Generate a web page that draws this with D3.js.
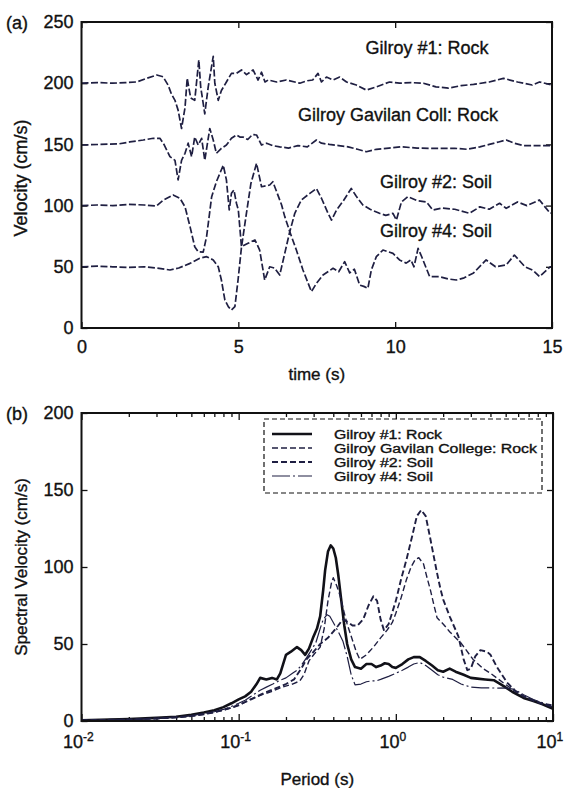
<!DOCTYPE html>
<html>
<head>
<meta charset="utf-8">
<script src="https://cdn.jsdelivr.net/npm/d3@7"></script>
<style>
  body { margin: 0; background: #fff; }
  svg { display: block; }
  text { font-family: "Liberation Sans", Arial, Helvetica, sans-serif; fill: #111; stroke: #111; stroke-width: 0.35px; }
</style>
</head>
<body>
<svg id="chart" width="568" height="788"></svg>
<script>
// ---------- (a) velocity time histories, offset per station ----------
const timeG1 = [0,0.5,1.0,1.4,1.76,2.08,2.4,2.6,2.76,2.87,2.98,3.08,3.19,3.3,3.37,3.48,3.61,3.74,3.8,3.93,4.04,4.2,4.25,4.36,4.46,4.62,4.78,4.94,5.1,5.26,5.47,5.63,5.74,5.85,5.95,6.22,6.53,6.96,7.2,7.37,7.54,7.65,7.81,8.02,8.23,8.45,8.76,9.08,9.4,9.82,10.14,10.5,10.9,11.3,11.7,12.1,12.5,13.0,13.45,13.9,14.37,14.6,15];
const velG1  = [200,200.5,200,200.5,201,204,206.7,205.3,198.5,191,186,178,163,180,204,188,186,219,197,175,197,222,200,186,194,201,208,208,210.8,207,210.8,202.6,209,201,202.6,201,202.6,200,202,202.6,208,201,205,202.6,205,201,198.5,194.4,197,201,200,200.5,200,197,196,198,199,201,204,201,198.5,201,198.5];

const timeGav = [0,0.6,1.2,1.54,1.97,2.29,2.5,2.64,2.82,2.98,3.08,3.19,3.3,3.4,3.51,3.61,3.72,3.83,3.93,4.09,4.2,4.3,4.46,4.62,4.78,4.94,5.05,5.15,5.3,5.45,5.58,5.74,5.9,6.1,6.32,6.6,6.9,7.2,7.49,7.65,7.9,8.2,8.5,8.8,9.08,9.4,9.8,10.2,10.7,11.1,11.5,11.9,12.3,12.7,13.0,13.3,13.54,13.8,14.1,14.5,15];
const velGav  = [149.5,150,150.5,152,153.6,155,155,149.5,140,137,121,137,142.7,151,140,156,149.5,155,137,163,153.6,142.7,146.8,149.5,155,157.7,156,156,154,158,157.7,149.5,151,149,148,147,149,148,153.6,151,150,149,148,146,144,146,147,148,147,146.8,146.8,146.8,146,148,150,152,153.6,151,149,149,149];

const timeG2 = [0,0.5,1.0,1.5,2.0,2.39,2.61,2.92,3.14,3.3,3.46,3.61,3.72,3.88,3.99,4.15,4.3,4.52,4.62,4.71,4.78,4.86,4.94,5.0,5.1,5.31,5.53,5.68,5.84,6.0,6.15,6.32,6.48,6.64,6.8,7.01,7.28,7.49,7.65,7.86,7.97,8.13,8.35,8.6,8.75,8.97,9.2,9.5,9.7,9.93,10.04,10.2,10.4,10.7,11.0,11.2,11.5,11.9,12.37,12.7,13.0,13.33,13.54,13.9,14.2,14.6,14.94,15];
const velG2  = [100,100.5,100,101,100.5,99.7,104.6,108.7,106,99,82.8,66.4,62.3,62,75,107.3,119.5,133,121,96.4,110,112.7,101.9,96.4,66.4,69.2,71.9,63.7,39.2,50,49,43.3,61,78.7,93.7,104.6,110,114,106,93.7,88.2,96.4,104,114,108,100.5,97,93.7,92,93.7,88.2,103,107.3,104,103,96.4,98,97,93.7,99,97,101.9,97.8,103,100,104.6,93.7,94];

const timeG4 = [0,0.5,1.0,1.5,2.0,2.4,2.82,3.1,3.46,3.77,3.99,4.2,4.36,4.46,4.57,4.68,4.78,4.89,4.99,5.1,5.26,5.4,5.58,5.74,6.0,6.1,6.22,6.38,6.48,6.64,6.85,7.06,7.33,7.49,7.7,8.02,8.2,8.39,8.55,8.7,8.87,9.0,9.13,9.24,9.4,9.61,9.93,10.14,10.35,10.5,10.6,10.73,10.85,11.1,11.4,11.7,11.95,12.2,12.5,12.9,13.2,13.54,13.8,14.14,14.4,14.6,14.94,15];
const velG4  = [50,50.5,50,49.5,50,49,47.4,49,52.8,57,58.3,55.6,50,39.2,22.9,17.4,14.7,17.4,39,66,94,118,134.6,115.4,116.8,119.5,111.4,100.5,91,78.7,63.7,47.4,29.7,36.5,43.3,48.8,46,54.2,45,48,35,34,32.4,47.4,58.3,63.7,61,55.6,53,55.6,50,65,58,41.9,42,40,39.2,41,45,55.6,50,51.5,59.6,50,47,42,50,50];

const timeTicks = [0, 5, 10, 15];
const velTicks  = [0, 50, 100, 150, 200, 250];
const traceLabels = ["Gilroy #1: Rock", "Gilroy Gavilan Coll: Rock", "Gilroy #2: Soil", "Gilroy #4: Soil"];

// ---------- (b) spectral velocity vs period ----------
const perG1 = [0.01,0.02,0.03,0.04,0.05,0.06,0.07,0.08,0.09,0.1,0.11,0.12,0.13,0.137,0.15,0.163,0.175,0.184,0.2,0.215,0.235,0.25,0.265,0.28,0.297,0.315,0.33,0.345,0.355,0.37,0.385,0.4,0.415,0.43,0.45,0.47,0.49,0.52,0.55,0.6,0.65,0.7,0.75,0.8,0.85,0.9,0.95,1.0,1.1,1.2,1.3,1.42,1.55,1.7,1.85,2.0,2.2,2.4,2.7,3.0,3.3,3.7,4.2,4.8,5.5,6.5,7.5,8.5,10];
const svG1  = [0.5,1.2,2,2.8,4,5.5,7,9,11.5,14,16,19,24,28,27,28,27,31,43,45,48,46,43,47,54,60,68,85,98,110,114,112,106,95,78,62,50,40,35,34,37,37,35,36,37.5,37,35,34.5,37,40,41.5,41.5,39,36,33,32,34,32,30,28,27.5,27,26.5,23,19,15,13,11,8];

const perGav = [0.01,0.02,0.03,0.04,0.05,0.06,0.07,0.08,0.09,0.1,0.118,0.14,0.16,0.19,0.22,0.245,0.26,0.28,0.3,0.33,0.35,0.37,0.39,0.4,0.42,0.44,0.47,0.49,0.52,0.56,0.59,0.65,0.72,0.8,0.88,0.95,1.0,1.08,1.17,1.25,1.33,1.4,1.5,1.58,1.66,1.75,1.83,2.0,2.2,2.6,3.1,3.6,4.0,4.8,5.7,6.5,7.5,8.5,10];
const svGav  = [0.3,0.8,1.5,2.2,3,4.2,5.5,7,8.5,10,14,17,19,22,24,26,30,39,43,48,60,78,90,93,88,82,70,63,55,45,40,43,48,54,59,64,70,80,92,100,105,106,102,93,85,75,67,63,58,50.6,40,34,31,25,19.5,16,13,11,9];

const perG2 = [0.01,0.02,0.03,0.04,0.05,0.06,0.07,0.08,0.09,0.1,0.12,0.14,0.17,0.2,0.225,0.25,0.27,0.3,0.33,0.37,0.4,0.43,0.46,0.5,0.53,0.57,0.62,0.67,0.72,0.76,0.8,0.84,0.9,1.0,1.08,1.17,1.27,1.36,1.45,1.55,1.66,1.75,1.83,1.92,2.0,2.2,2.5,2.7,2.85,3.0,3.2,3.45,3.8,4.0,4.4,5.1,5.7,6.5,7.5,8.5,10];
const svG2  = [0.5,1,1.7,2.4,3.3,4.5,5.8,7.2,8.7,10.5,14,17.5,21,24,27,34,40,45,50,54,58,62,66,64,62,62,66,75,81,78,66,59,63,78,92,105,120,133,137,133,118,106,96,86,79,68,55,40,33,34,42,46,45,43,35,25,20,16,13.5,11.5,10];

const perG4 = [0.01,0.02,0.03,0.04,0.05,0.06,0.07,0.08,0.09,0.1,0.11,0.12,0.137,0.15,0.165,0.184,0.2,0.22,0.235,0.25,0.27,0.29,0.31,0.33,0.345,0.365,0.38,0.4,0.43,0.46,0.49,0.52,0.55,0.6,0.65,0.7,0.75,0.8,0.9,1.0,1.1,1.2,1.3,1.42,1.55,1.7,1.85,2.0,2.3,2.6,3.0,3.5,4.4,5.0,5.7,6.5,7.5,8.5,10];
const svG4  = [0.3,1,1.8,2.6,3.5,4.8,6,7.5,9.5,11.5,13.5,16,20,22,24,26.5,28,31,33,36,41,46,51,60,66,69,68,64,58,52,42,30,23.5,24,25.5,26,26,27,29,31,33,35,37,38,36,33,30,28.5,27,24,22,21.5,21.4,21.5,20.5,17,14,12,9];

const periodMajor = [0.01, 0.1, 1, 10];
const svTicks = [0, 50, 100, 150, 200];
const legendNames = ["Gilroy #1: Rock", "Gilroy Gavilan College: Rock", "Gilroy #2: Soil", "Gilroy #4: Soil"];

// ---------- drawing ----------
const svg = d3.select("#chart");
const ink = "#111";
const traceInk = "#1f1f42";

function frame(g, x0, y0, x1, y1) {
  g.append("rect").attr("x", x0).attr("y", y0).attr("width", x1 - x0).attr("height", y1 - y0)
    .attr("fill", "none").attr("stroke", ink).attr("stroke-width", 2);
}
function tidyAxis(sel) {
  sel.select(".domain").remove();
  sel.selectAll(".tick line").attr("stroke", ink).attr("stroke-width", 1.3);
  sel.selectAll(".tick text").attr("fill", ink).style("font-size", "18px")
     .style("font-family", "\"Liberation Sans\", Arial, sans-serif");
}

// ----- panel (a) -----
const A = { left: 81.5, right: 552, top: 22, bottom: 328 };
const xa = d3.scaleLinear().domain([0, 15]).range([A.left, A.right]);
const ya = d3.scaleLinear().domain([0, 250]).range([A.bottom, A.top]);
const ga = svg.append("g");

ga.append("g").attr("transform", `translate(0,${A.bottom})`)
  .call(d3.axisBottom(xa).tickValues(timeTicks).tickSize(-6).tickPadding(12)).call(tidyAxis);
ga.append("g").attr("transform", `translate(0,${A.top})`)
  .call(d3.axisTop(xa).tickValues(timeTicks).tickSize(-6).tickFormat("")).call(tidyAxis);
ga.append("g").attr("transform", `translate(${A.left},0)`)
  .call(d3.axisLeft(ya).tickValues(velTicks).tickSize(-6).tickPadding(8)).call(tidyAxis);
ga.append("g").attr("transform", `translate(${A.right},0)`)
  .call(d3.axisRight(ya).tickValues(velTicks).tickSize(-6).tickFormat("")).call(tidyAxis);

const lineA = d3.line().x(d => xa(d[0])).y(d => ya(d[1]));
const traces = [[timeG1, velG1], [timeGav, velGav], [timeG2, velG2], [timeG4, velG4]];
traces.forEach(([t, v]) => {
  ga.append("path").datum(t.map((ti, i) => [ti, v[i]]))
    .attr("d", lineA).attr("fill", "none").attr("stroke", traceInk)
    .attr("stroke-width", 1.7).attr("stroke-dasharray", "7,2.5").attr("stroke-linejoin", "round");
});
frame(ga, A.left, A.top, A.right, A.bottom);

const labelPos = [[427, 54], [398, 121], [436, 188], [436, 237]];
traceLabels.forEach((s, i) => {
  ga.append("text").attr("x", labelPos[i][0]).attr("y", labelPos[i][1])
    .attr("text-anchor", "middle").style("font-size", "18px").text(s);
});
ga.append("text").attr("x", 6).attr("y", 29).style("font-size", "18px").text("(a)");
ga.append("text").attr("x", (A.left + A.right) / 2).attr("y", 380).attr("text-anchor", "middle")
  .style("font-size", "17px").text("time (s)");
ga.append("text").attr("transform", `translate(27,${(A.top + A.bottom) / 2 + 3}) rotate(-90)`)
  .attr("text-anchor", "middle").style("font-size", "18px").text("Velocity (cm/s)");

// ----- panel (b) -----
const B = { left: 81.5, right: 553, top: 413, bottom: 721 };
const xb = d3.scaleLog().domain([0.01, 10]).range([B.left, B.right]);
const yb = d3.scaleLinear().domain([0, 200]).range([B.bottom, B.top]);
const gb = svg.append("g");

const minorTicks = [];
[0.01, 0.1, 1].forEach(d => { for (let k = 2; k <= 9; k++) minorTicks.push(d * k); });

const xbAxis = gb.append("g").attr("transform", `translate(0,${B.bottom})`)
  .call(d3.axisBottom(xb).tickValues(periodMajor).tickSize(-7).tickPadding(14).tickFormat(() => "10"))
  .call(tidyAxis);
// exponent superscripts
xbAxis.selectAll(".tick text").each(function(d) {
  const e = Math.round(Math.log10(d));
  const t = d3.select(this);
  t.attr("text-anchor", "middle").attr("dx", "-0.2em");
  t.append("tspan").attr("dy", "-0.55em").style("font-size", "12px").text(String(e));
});
gb.append("g").attr("transform", `translate(0,${B.bottom})`)
  .call(d3.axisBottom(xb).tickValues(minorTicks).tickSize(-4).tickFormat("")).call(tidyAxis);
gb.append("g").attr("transform", `translate(0,${B.top})`)
  .call(d3.axisTop(xb).tickValues(periodMajor).tickSize(-7).tickFormat("")).call(tidyAxis);
gb.append("g").attr("transform", `translate(0,${B.top})`)
  .call(d3.axisTop(xb).tickValues(minorTicks).tickSize(-4).tickFormat("")).call(tidyAxis);
gb.append("g").attr("transform", `translate(${B.left},0)`)
  .call(d3.axisLeft(yb).tickValues(svTicks).tickSize(-6).tickPadding(8)).call(tidyAxis);
gb.append("g").attr("transform", `translate(${B.right},0)`)
  .call(d3.axisRight(yb).tickValues(svTicks).tickSize(-6).tickFormat("")).call(tidyAxis);

const lineB = d3.line().x(d => xb(d[0])).y(d => yb(d[1])).curve(d3.curveLinear);
const spectra = [
  { p: perG1,  v: svG1,  w: 2.6, dash: null,        c: "#111118" },
  { p: perGav, v: svGav, w: 1.4, dash: "6,3",       c: traceInk },
  { p: perG2,  v: svG2,  w: 1.9, dash: "6,3",       c: traceInk },
  { p: perG4,  v: svG4,  w: 1.2, dash: "18,3,2,3",  c: traceInk }
];
spectra.forEach(s => {
  gb.append("path").datum(s.p.map((p, i) => [p, s.v[i]]))
    .attr("d", lineB).attr("fill", "none").attr("stroke", s.c).attr("stroke-width", s.w)
    .attr("stroke-dasharray", s.dash).attr("stroke-linejoin", "round");
});
frame(gb, B.left, B.top, B.right, B.bottom);

// legend: tight rows, text stretched horizontally to the box width
const L = { x0: 264, y0: 419, x1: 542, y1: 493 };
gb.append("rect").attr("x", L.x0).attr("y", L.y0).attr("width", L.x1 - L.x0).attr("height", L.y1 - L.y0)
  .attr("fill", "#fff").attr("stroke", ink).attr("stroke-width", 1.2).attr("stroke-dasharray", "5,3");
const rowY = [434, 448, 462, 476];
const rowLen = [108, 203, 99, 99];
legendNames.forEach((name, i) => {
  const s = spectra[i];
  gb.append("line").attr("x1", 272).attr("x2", 312).attr("y1", rowY[i]).attr("y2", rowY[i])
    .attr("stroke", s.c).attr("stroke-width", s.w).attr("stroke-dasharray", s.dash);
  gb.append("text").attr("x", 334).attr("y", rowY[i] + 4.5).style("font-size", "12.5px")
    .attr("textLength", rowLen[i]).attr("lengthAdjust", "spacingAndGlyphs").text(name);
});

gb.append("text").attr("x", 6).attr("y", 420).style("font-size", "18px").text("(b)");
gb.append("text").attr("x", (B.left + B.right) / 2).attr("y", 785).attr("text-anchor", "middle")
  .style("font-size", "17px").text("Period (s)");
gb.append("text").attr("transform", `translate(27,${(B.top + B.bottom) / 2}) rotate(-90)`)
  .attr("text-anchor", "middle").style("font-size", "17px").text("Spectral Velocity (cm/s)");
</script>
</body>
</html>
